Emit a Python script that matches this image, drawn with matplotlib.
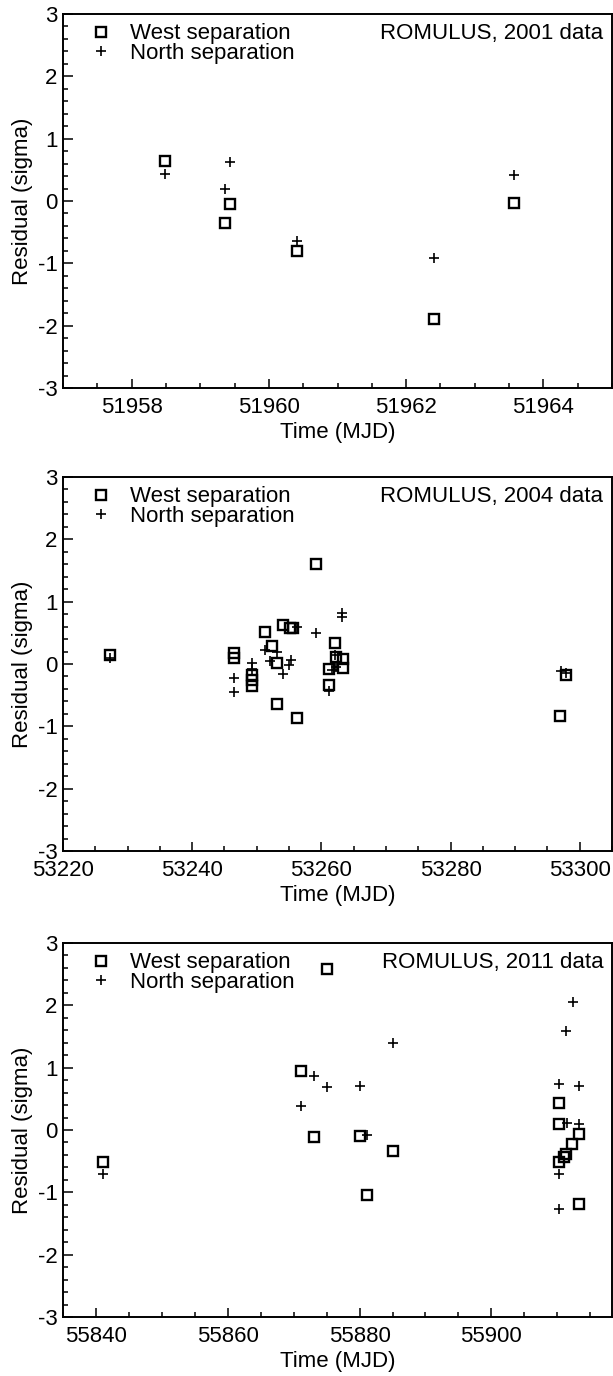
import matplotlib
matplotlib.use("Agg")
import matplotlib.pyplot as plt
from matplotlib.ticker import MultipleLocator, FormatStrFormatter

plt.rcParams['font.family'] = ['Liberation Sans', 'DejaVu Sans']
plt.rcParams['axes.unicode_minus'] = False

# 2001 data
t01_west = [51958.48, 51959.36, 51959.44, 51960.41, 51962.41, 51963.57]
r01_west = [0.64, -0.35, -0.05, -0.81, -1.90, -0.04]
t01_north = [51958.48, 51959.36, 51959.44, 51960.41, 51962.41, 51963.57]
r01_north = [0.43, 0.20, 0.62, -0.64, -0.92, 0.41]

# 2004 data
t04_west = [53227.3, 53246.4, 53246.4, 53249.3, 53249.3, 53249.3, 53251.3,
            53252.4, 53253.2, 53253.1, 53254.1, 53255.1, 53255.6, 53256.3,
            53259.1, 53262.1, 53262.2, 53263.3, 53263.3, 53261.2, 53261.2,
            53296.95, 53297.9]
r04_west = [0.15, 0.17, 0.10, -0.18, -0.25, -0.36, 0.52,
            0.29, 0.02, -0.64, 0.62, 0.58, 0.58, -0.87,
            1.61, 0.33, 0.11, 0.08, -0.07, -0.08, -0.33,
            -0.83, -0.18]
t04_north = [53227.3, 53246.4, 53246.4, 53249.3, 53249.3, 53251.3, 53253.2,
             53252.1, 53254.0, 53255.3, 53255.0, 53256.3, 53259.1, 53263.15,
             53263.15, 53262.1, 53261.7, 53262.2, 53261.2, 53297.1, 53297.9]
r04_north = [0.09, -0.23, -0.45, 0.02, -0.08, 0.22, 0.20,
             0.05, -0.16, 0.06, -0.01, 0.60, 0.50, 0.82,
             0.76, 0.15, -0.10, -0.05, -0.43, -0.12, -0.14]

# 2011 data
t11_west = [55841.1, 55871.1, 55873.1, 55875.0, 55880.0, 55881.1, 55885.1,
            55910.3, 55910.2, 55913.3, 55912.2, 55911.3, 55911.0, 55910.2,
            55913.3]
r11_west = [-0.52, 0.94, -0.11, 2.59, -0.09, -1.04, -0.34,
            0.43, 0.09, -0.07, -0.23, -0.38, -0.43, -0.51,
            -1.18]
t11_north = [55841.1, 55871.1, 55873.1, 55875.1, 55880.0, 55881.1, 55885.1,
             55912.4, 55911.3, 55910.3, 55913.3, 55911.4, 55913.3, 55910.2,
             55910.2]
r11_north = [-0.71, 0.39, 0.86, 0.69, 0.71, -0.08, 1.39,
             2.06, 1.59, 0.73, 0.70, 0.11, 0.09, -0.70,
             -1.26]

panels = [
    (t01_west, r01_west, t01_north, r01_north, (51957, 51965), 2, 0.5, "ROMULUS, 2001 data"),
    (t04_west, r04_west, t04_north, r04_north, (53220, 53305), 20, 5, "ROMULUS, 2004 data"),
    (t11_west, r11_west, t11_north, r11_north, (55835, 55918.3), 20, 5, "ROMULUS, 2011 data"),
]

FS = 16
W, H = 613, 1376
fig = plt.figure(figsize=(W / 100, H / 100), dpi=100)
tops = [14, 477, 943]
ax_h = 374

for (tw, rw, tn, rn, xlim, major, minor, title), top in zip(panels, tops):
    ax = fig.add_axes([63 / W, (H - top - ax_h) / H, 549 / W, ax_h / H])
    ax.plot(tw, rw, linestyle='none', marker='s', markersize=7.8, markerfacecolor='none',
            markeredgecolor='black', markeredgewidth=1.7, label='West separation')
    ax.plot(tn, rn, linestyle='none', marker='+', markersize=7.5, color='black',
            markeredgewidth=1.2, label='North separation')
    ax.set_xlim(*xlim)
    ax.set_ylim(-3, 3)
    ax.xaxis.set_major_locator(MultipleLocator(major))
    ax.xaxis.set_minor_locator(MultipleLocator(minor))
    ax.yaxis.set_major_locator(MultipleLocator(1))
    ax.yaxis.set_minor_locator(MultipleLocator(0.2))
    ax.xaxis.set_major_formatter(FormatStrFormatter('%d'))
    ax.tick_params(which='both', direction='in', top=False, right=False, width=1.1,
                   labelsize=FS)
    ax.tick_params(axis='x', which='major', length=6.5, pad=6.5)
    ax.tick_params(axis='y', which='major', length=7.5, pad=4)
    ax.tick_params(which='minor', length=3.5)
    for s in ax.spines.values():
        s.set_linewidth(1.4)
    ax.set_xlabel("Time (MJD)", fontsize=FS, labelpad=3)
    ax.set_ylabel("Residual (sigma)", fontsize=FS, labelpad=3)
    ax.legend(loc='upper left', frameon=False, fontsize=FS, handlelength=1.0,
              handletextpad=0.78, labelspacing=-0.06, borderaxespad=0, borderpad=0,
              bbox_to_anchor=(0.0495, 0.975))
    ax.text(0.984, 0.947, title, transform=ax.transAxes, ha='right', va='center',
            fontsize=FS)

fig.savefig('out.png', dpi=100)
